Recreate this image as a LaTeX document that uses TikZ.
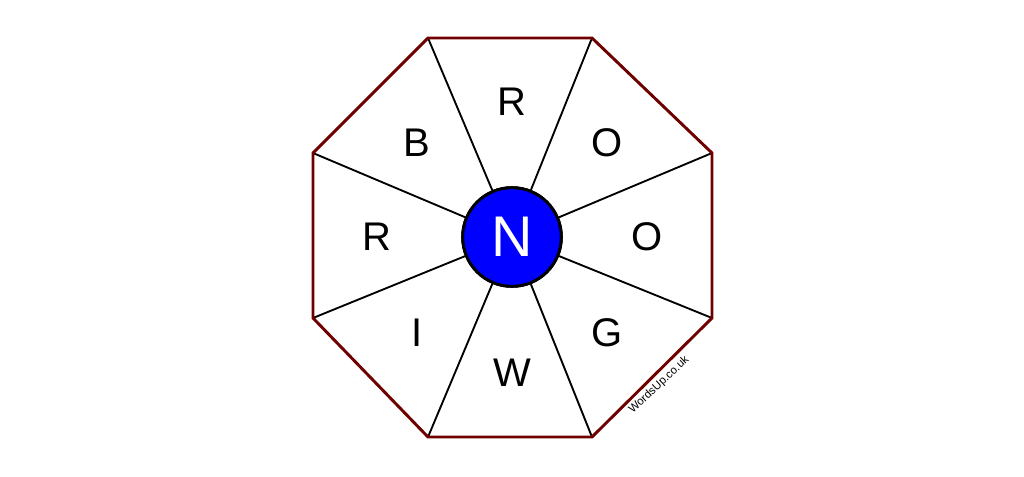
\documentclass[tikz,border=0pt]{standalone}
\usepackage{fontspec}
\setmainfont{Liberation Sans}

\begin{document}
\begin{tikzpicture}[x=0.75pt,y=-0.75pt,line join=miter,
  letter/.style={font=\fontsize{30}{30}\selectfont,inner sep=0pt},
  hubstyle/.style={circle,draw=black,line width=2.2pt,fill=blue,minimum size=74pt,inner sep=0pt,text=white,font=\fontsize{43}{43}\selectfont},
  rim/.style={draw={rgb,255:red,110;green,0;blue,0},line width=2.2pt},
  spoke/.style={draw=black,line width=1.4pt}]
\useasboundingbox (0,0) rectangle (1024,476);
\coordinate (v1) at (428,38);
\coordinate (v2) at (592,38);
\coordinate (v3) at (712,153);
\coordinate (v4) at (712,318);
\coordinate (v5) at (592,437);
\coordinate (v6) at (428,437);
\coordinate (v7) at (313,318);
\coordinate (v8) at (313,153);
\node [hubstyle] (hub) at (512,237) {N};
\foreach \v in {1,...,8}
  \draw [spoke] (hub) -- (v\v);
\draw [rim] (v1) -- (v2) -- (v3) -- (v4) -- (v5) -- (v6) -- (v7) -- (v8) -- cycle;
\node [hubstyle] at (hub) {N};
\node [letter] (l1) at (512,102) {R};
\node [letter] (l2) at (607,143) {O};
\node [letter] (l3) at (647,237) {O};
\node [letter] (l4) at (607,333) {G};
\node [letter] (l5) at (512,373) {W};
\node [letter] (l6) at (417,333) {I};
\node [letter] (l7) at (377,237) {R};
\node [letter] (l8) at (417,143) {B};
\node [rotate=43,font=\fontsize{8.5}{8.5}\selectfont,inner sep=0pt] (mark) at (659,385) {WordsUp.co.uk};
\end{tikzpicture}
\end{document}
